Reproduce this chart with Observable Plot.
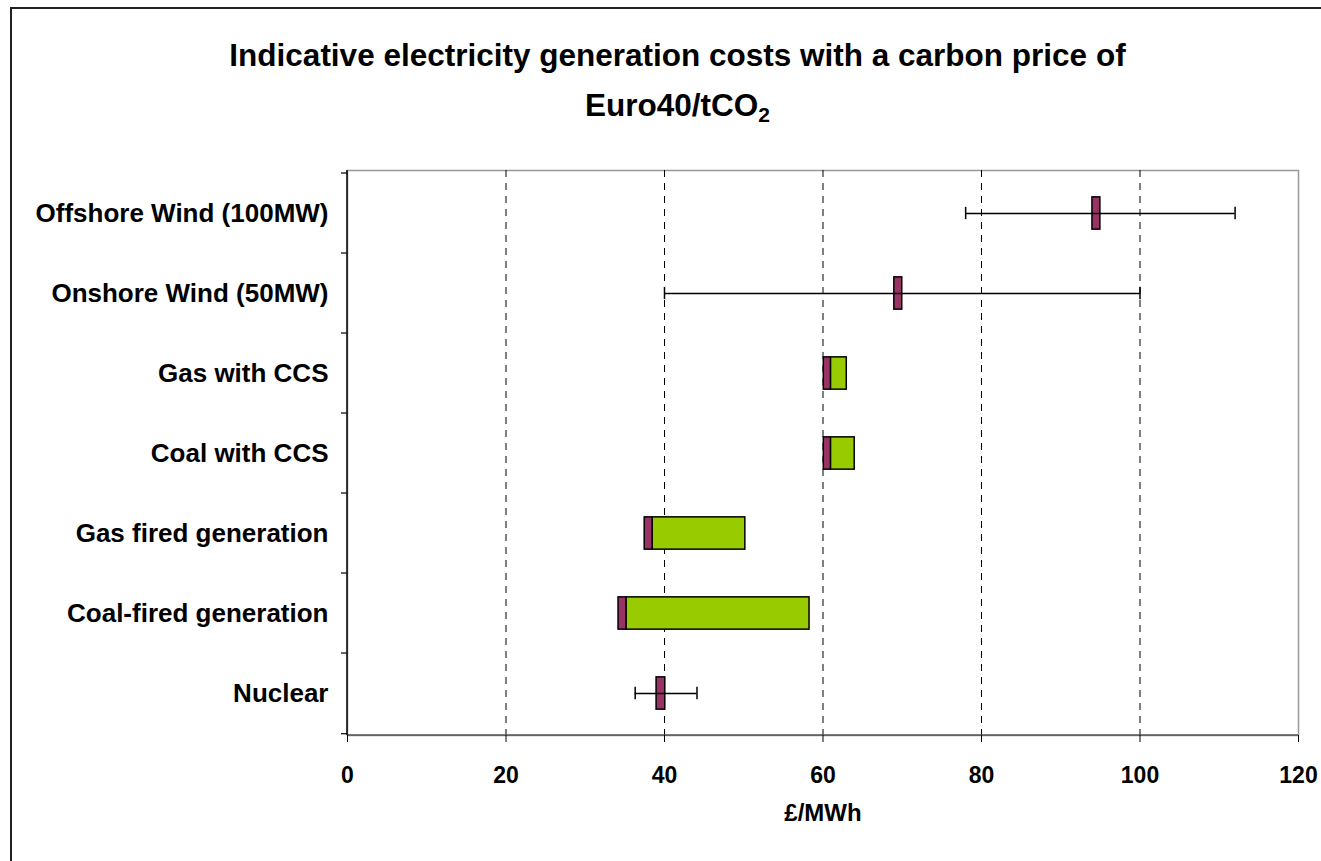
<!DOCTYPE html>
<html><head><meta charset="utf-8">
<script src="https://cdn.jsdelivr.net/npm/d3@7"></script>
<script src="https://cdn.jsdelivr.net/npm/@observablehq/plot@0.6"></script>
<style>
body{margin:0;background:#fff;font-family:"Liberation Sans",Arial,sans-serif}
#wrap{position:relative;width:1321px;height:861px;overflow:hidden;background:#fff}
#border{position:absolute;left:10px;top:7px;width:1400px;height:1000px;border-left:2px solid #222;border-top:2px solid #222}
#title{position:absolute;left:0;top:30px;width:1355px;text-align:center;font-weight:bold;font-size:31.5px;line-height:50px;color:#000}
#title sub{font-size:21px;vertical-align:-6px;line-height:0}
#chart{position:absolute;left:0;top:140px}
#chart svg{display:block}
</style></head>
<body><div id="wrap"><div id="border"></div>
<div id="title">Indicative electricity generation costs with a carbon price of<br>Euro40/tCO<sub>2</sub></div>
<div id="chart"></div></div>
<script>
const categories = ["Offshore Wind (100MW)","Onshore Wind (50MW)","Gas with CCS","Coal with CCS","Gas fired generation","Coal-fired generation","Nuclear"];
const baseLow   = [94, 69, 60.1, 60.1, 37.5, 34.2, 39];
const baseHigh  = [95, 70, 61, 61, 38.5, 35.2, 40.1];
const carbonHigh = [null, null, 63, 64, 50.2, 58.3, null];
const rangeLow  = [78, 40, null, null, null, null, 36.3];
const rangeHigh = [112, 100, null, null, null, null, 44.1];
const xTicks = [0, 20, 40, 60, 80, 100, 120];
const gridTicks = [20, 40, 60, 80, 100];

const rows = categories.map((c, i) => ({cat: c, lo: baseLow[i], hi: baseHigh[i], ch: carbonHigh[i], rl: rangeLow[i], rh: rangeHigh[i]}));
const greenRows = rows.filter(d => d.ch != null);
const errRows = rows.filter(d => d.rl != null);

const W = 1321, H = 721, mT = 30, mB = 126, mL = 347, mR = 23;
const band = (H - mT - mB) / categories.length;
const barInset = (band - 33) / 2;
const capInset = (band - 13) / 2;

function boundaryTicks(index, scales, values, dims) {
  const g = d3.create("svg:g");
  const ys = categories.map(c => scales.y(c)).concat([scales.y(categories[categories.length-1]) + band]);
  const x0 = dims.marginLeft;
  g.selectAll("line.t").data(ys).join("line")
    .attr("x1", x0 - 6).attr("x2", x0).attr("y1", d => d).attr("y2", d => d)
    .attr("stroke", "#000").attr("stroke-width", 1.2);
  g.append("line").attr("x1", x0).attr("x2", dims.width - dims.marginRight)
    .attr("y1", dims.height - dims.marginBottom).attr("y2", dims.height - dims.marginBottom)
    .attr("stroke", "#555").attr("stroke-width", 1.5);
  g.append("line").attr("x1", x0).attr("x2", x0)
    .attr("y1", dims.marginTop).attr("y2", dims.height - dims.marginBottom)
    .attr("stroke", "#000").attr("stroke-width", 1.5);
  return g.node();
}

const chart = Plot.plot({
  width: W, height: H,
  marginTop: mT, marginBottom: mB, marginLeft: mL, marginRight: mR,
  style: {fontFamily: "'Liberation Sans', Arial, sans-serif", fontWeight: "bold", color: "#000", background: "transparent"},
  x: {domain: [0, 120]},
  y: {domain: categories, padding: 0},
  marks: [
    Plot.frame({stroke: "#999", strokeWidth: 1.5}),
    Plot.ruleX(gridTicks, {stroke: "#000", strokeWidth: 1, strokeDasharray: "7,6"}),
    Plot.barX(greenRows, {y: "cat", x1: "hi", x2: "ch", fill: "#99CC00", stroke: "#000", strokeWidth: 1.5, insetTop: barInset, insetBottom: barInset}),
    Plot.barX(rows, {y: "cat", x1: "lo", x2: "hi", fill: "#993366", stroke: "#000", strokeWidth: 1.5, insetTop: barInset, insetBottom: barInset}),
    Plot.ruleY(errRows, {y: "cat", x1: "rl", x2: "rh", stroke: "#000", strokeWidth: 1.5}),
    Plot.tickX(errRows, {y: "cat", x: "rl", stroke: "#000", strokeWidth: 1.5, insetTop: capInset, insetBottom: capInset}),
    Plot.tickX(errRows, {y: "cat", x: "rh", stroke: "#000", strokeWidth: 1.5, insetTop: capInset, insetBottom: capInset}),
    boundaryTicks,
    Plot.axisX({ticks: xTicks, tickSize: 7, tickPadding: 24, fontSize: 23, label: null, stroke: "#000"}),
    Plot.axisY({tickSize: 0, tickPadding: 19, fontSize: 26, label: null}),
    Plot.text(["£/MWh"], {frameAnchor: "bottom", dy: 85, fontSize: 24, fontWeight: "bold", fill: "#000"})
  ]
});
document.getElementById("chart").appendChild(chart);
</script>
</body></html>
